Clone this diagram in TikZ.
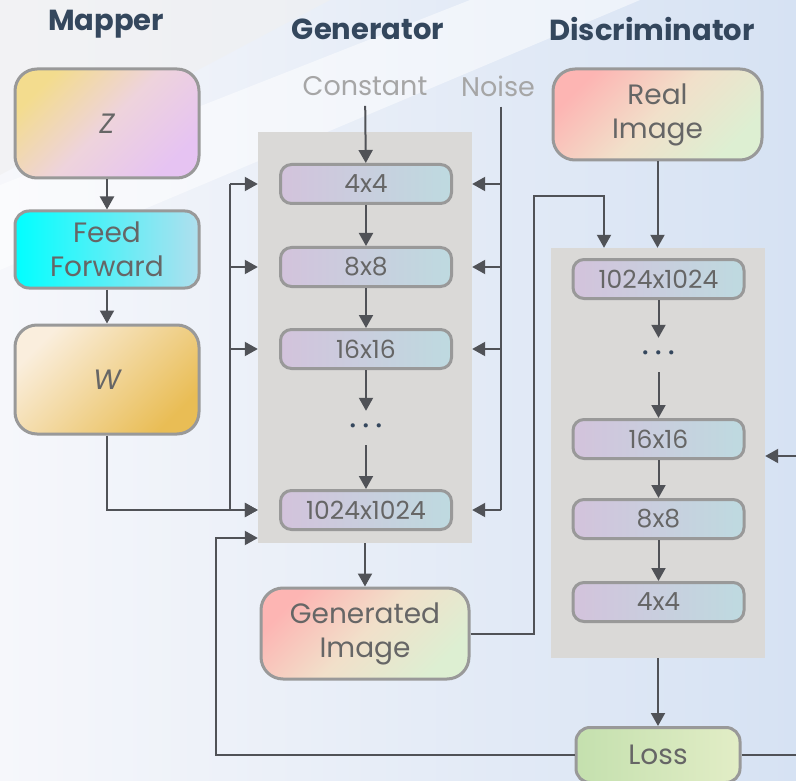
\documentclass[tikz,border=0pt]{standalone}
\usepackage{fontspec}
\setmainfont{Poppins}
\usetikzlibrary{positioning}
\usetikzlibrary{arrows.meta}

\definecolor{titlecol}{HTML}{34475D}
\definecolor{txtgray}{HTML}{666666}
\definecolor{lblgray}{HTML}{A6A6A6}
\definecolor{edgegray}{HTML}{999999}
\definecolor{arrgray}{HTML}{505257}
\definecolor{panelgray}{HTML}{DAD9D7}
\definecolor{layerA}{HTML}{D3C3DC}
\definecolor{layerB}{HTML}{BEDAE0}
\definecolor{bgL}{HTML}{F6F7FB}
\definecolor{bgR}{HTML}{D6E2F3}
\definecolor{zA}{HTML}{F3DC8E}
\definecolor{zM}{HTML}{EED3DC}
\definecolor{zB}{HTML}{E6C3F2}
\definecolor{ffA}{HTML}{00FFFF}
\definecolor{ffB}{HTML}{B0DFEE}
\definecolor{wA}{HTML}{FAEEDD}
\definecolor{wB}{HTML}{E9BD55}
\definecolor{imgA}{HTML}{FDB5B3}
\definecolor{imgM}{HTML}{F1E0CA}
\definecolor{imgB}{HTML}{DDEFD2}
\definecolor{lossA}{HTML}{C4E0AE}
\definecolor{lossB}{HTML}{E2EDC6}

\newcommand{\threedots}{\raisebox{-5pt}{•\hspace{6pt}•\hspace{6pt}•}}

\tikzset{x=1pt, y=-1pt,
    title/.style={
        font=\fontsize{29}{34}\selectfont\bfseries,
        text=titlecol},
    inlabel/.style={
        font=\fontsize{27}{32}\selectfont,
        text=lblgray,
        inner xsep=0pt, inner ysep=10pt},
    box/.style={
        draw=edgegray, line width=3pt,
        rounded corners=22pt,
        align=center, inner sep=0pt,
        text=txtgray,
        font=\fontsize{28}{34}\selectfont},
    layer/.style={
        draw=edgegray, line width=3pt,
        rounded corners=11pt,
        minimum width=171pt, minimum height=39pt,
        inner sep=0pt, text=txtgray,
        font=\fontsize{25}{30}\selectfont,
        left color=layerA, right color=layerB},
    panel/.style={
        fill=panelgray, inner sep=0pt,
        minimum width=214pt},
    dots/.style={
        text=titlecol, inner sep=0pt,
        font=\fontsize{17}{20}\selectfont,
        minimum height=34pt},
    wire/.style={
        draw=arrgray, line width=2pt},
    arr/.style={
        wire,
        -{Triangle[length=13pt,width=14pt]}}}

\begin{document}
\begin{tikzpicture}
    \clip (0,0) rectangle (796,781);
    % background
    \shade[left color=bgL, right color=bgR] (0,0) rectangle (796,781);
    \fill[gray!12, opacity=.6] (0,0) -- (330,0) -- (0,175) -- cycle;
    \fill[white, opacity=.5] (0,270) -- (0,185) -- (470,0) -- (640,0) -- cycle;

    % titles
    \node[title] (mapT) at (106,24) {Mapper};
    \node[title] (genT) at (368,29) {Generator};
    \node[title] (disT) at (652,29) {Discriminator};

    % mapper
    \node[box, minimum width=184pt, minimum height=109pt,
          top color=zA, bottom color=zB, middle color=zM,
          shading angle=45] (z) at (107,123.5) {\itshape Z};
    \node[box, rounded corners=14pt, minimum width=184pt, minimum height=77pt,
          left color=ffA, right color=ffB] (ff) at (107,249.5) {Feed\\Forward};
    \node[box, minimum width=184pt, minimum height=109pt,
          top color=wA, bottom color=wB,
          shading angle=45] (w) at (107,379.5) {\itshape W};

    \draw[arr] (z) -- (ff);
    \draw[arr] (ff) -- (w);

    % generator
    \node[panel, minimum height=411pt] (genbox) at (365,337.5) {};
    \node[layer] (g4) at (366,184) {4x4};
    \node[layer] (g8) at (366,267) {8x8};
    \node[layer] (g16) at (366,349) {16x16};
    \node[dots] (gdots) at (366,428) {\threedots};
    \node[layer] (g1024) at (366,510) {1024x1024};

    \node[inlabel] (const) at (365,86) {Constant};
    \node[inlabel] (noise) at (498,86) {Noise};

    \draw[arr] (const) -- (g4);
    \draw[arr] (g4) -- (g8);
    \draw[arr] (g8) -- (g16);
    \draw[arr] (g16) -- (gdots);
    \draw[arr] (gdots) -- (g1024);

    \coordinate (lbus) at (230,0);
    \coordinate (nbus) at (501,0);
    \draw[wire] (lbus |- g4) -- (lbus |- g1024);
    \draw[wire] (noise.south -| nbus) -- (nbus |- g1024);
    \foreach \b in {g4,g8,g16,g1024} {
        \draw[arr] (lbus |- \b) -- (genbox.west |- \b);
        \draw[arr] (nbus |- \b) -- (genbox.east |- \b);
    }
    \draw[arr] (w.south) |- (genbox.west |- g1024);

    \node[box, minimum width=208pt, minimum height=91pt,
          top color=imgA, bottom color=imgB, middle color=imgM,
          shading angle=45] (gimg) at (365,633.5) {Generated\\Image};
    \draw[arr] (genbox) -- (gimg);

    % discriminator
    \node[box, minimum width=209pt, minimum height=91pt,
          top color=imgA, bottom color=imgB, middle color=imgM,
          shading angle=45] (real) at (657.5,114.5) {Real\\Image};
    \node[panel, minimum height=410pt] (disbox) at (658,453) {};
    \node[layer] (d1024) at (658.5,279) {1024x1024};
    \node[dots] (ddots) at (658.5,355) {\threedots};
    \node[layer] (d16) at (658.5,439) {16x16};
    \node[layer] (d8) at (658.5,519) {8x8};
    \node[layer] (d4) at (658.5,602) {4x4};

    \draw[arr] (d1024) -- (ddots);
    \draw[arr] (ddots) -- (d16);
    \draw[arr] (d16) -- (d8);
    \draw[arr] (d8) -- (d4);
    \draw[arr] (real) -- (real |- disbox.north);

    \coordinate (gd) at (534,196);
    \coordinate (dtop) at (604,0);
    \draw[arr] (gimg.east) -| (gd) -| (dtop |- disbox.north);

    % loss
    \node[box, rounded corners=14pt, minimum width=164pt, minimum height=55pt,
          left color=lossA, right color=lossB] (loss) at (658,755) {Loss};
    \draw[arr] (disbox) -- (loss);

    \coordinate (fb) at (216,538);
    \coordinate (rfb) at (830,456);
    \draw[arr] (loss.west) -| (fb) -- (genbox.west |- fb);
    \draw[arr] (loss.east) -| (rfb) -- (disbox.east |- rfb);
\end{tikzpicture}
\end{document}
